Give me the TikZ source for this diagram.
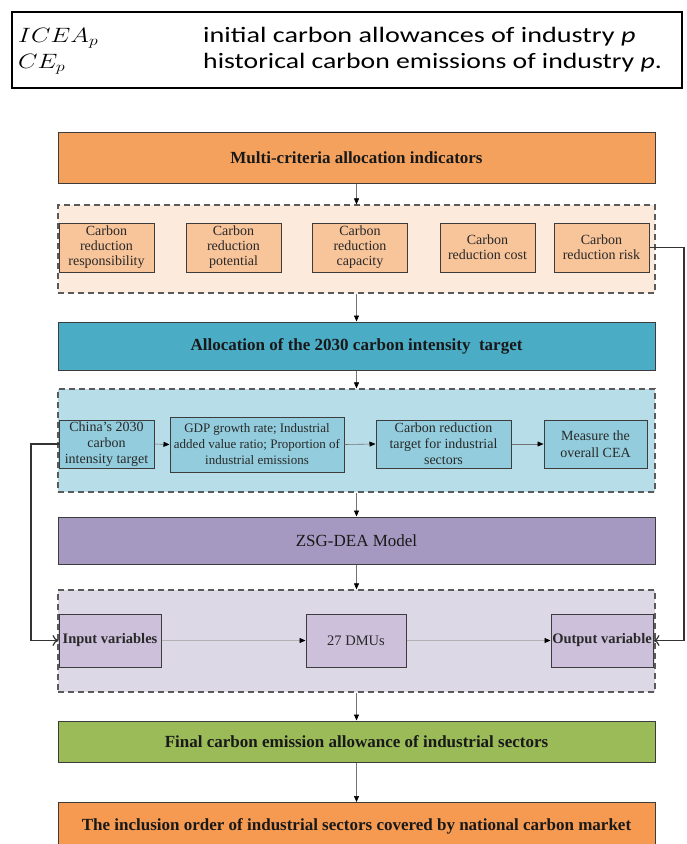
\documentclass[tikz,border=0pt]{standalone}
\usepackage{fontspec}
\setmainfont{Liberation Serif}
\newfontfamily\calfont{Carlito}
\usetikzlibrary{arrows.meta}
\definecolor{orgA}{RGB}{244,161,94}
\definecolor{orgB}{RGB}{246,154,82}
\definecolor{orgL}{RGB}{252,234,220}
\definecolor{orgS}{RGB}{248,196,154}
\definecolor{bluA}{RGB}{75,172,198}
\definecolor{bluL}{RGB}{183,221,232}
\definecolor{bluS}{RGB}{147,205,221}
\definecolor{purA}{RGB}{166,153,193}
\definecolor{purL}{RGB}{221,216,229}
\definecolor{purS}{RGB}{204,192,218}
\definecolor{grnA}{RGB}{155,187,89}
\definecolor{boxline}{RGB}{60,60,60}
\definecolor{dashline}{RGB}{90,90,90}
\definecolor{textgray}{RGB}{40,40,40}
\begin{document}
\begin{tikzpicture}[x=1pt,y=-1pt,
  bigbox/.style={draw=boxline, line width=1pt, minimum width=597pt, inner sep=0pt,
    font=\fontsize{17}{19}\selectfont\bfseries, text=black!90},
  region/.style={draw=dashline, dash pattern=on 6pt off 4pt, line width=1.2pt,
    minimum width=597pt, inner sep=0pt},
  smallbox/.style={draw=boxline, line width=1pt, inner sep=0pt, align=center,
    font=\fontsize{14}{15}\selectfont, text=textgray},
  flow/.style={draw=black!55, line width=0.6pt, -{Triangle[length=6pt,width=5pt,color=black]}},
  feed/.style={draw=black!80, line width=1.2pt, -{To[length=6pt,width=11pt]}},
  tabtext/.style={anchor=base west, inner sep=0pt, font=\calfont\fontsize{22}{26}\selectfont}
]
\useasboundingbox (0,0) rectangle (686,844);
\clip (0,0) rectangle (686,844);
\fill[white] (0,0) rectangle (686,844);

% table
\node[draw=black, line width=1.5pt, minimum width=670pt, minimum height=76pt, inner sep=0pt] (tab) at (347,50) {};
\node[tabtext] (t1a) at (18,42) {\scalebox{1.22}[1]{$ICEA_p$}};
\node[tabtext] (t1b) at (203,42) {\scalebox{1.28}[1]{initial carbon allowances of industry \textit{p}}};
\node[tabtext] (t2a) at (18,68) {\scalebox{1.22}[1]{$CE_p$}};
\node[tabtext] (t2b) at (203,68) {\scalebox{1.26}[1]{historical carbon emissions of industry \textit{p}.}};

% regions
\node[region, fill=orgL, minimum height=88pt] (r1) at (356.5,249) {};
\node[region, fill=bluL, minimum height=103pt] (r2) at (356.5,440.5) {};
\node[region, fill=purL, minimum height=102pt] (r3) at (356.5,641) {};

% big boxes
\node[bigbox, fill=orgA, minimum height=51pt] (b1) at (356.5,157.5) {Multi-criteria allocation indicators};
\node[bigbox, fill=bluA, minimum height=48pt] (b2) at (356.5,346) {Allocation of the 2030 carbon intensity\ \ target};
\node[bigbox, fill=purA, minimum height=47pt, font=\fontsize{17}{19}\selectfont] (b3) at (356.5,540.5) {ZSG-DEA Model};
\node[bigbox, fill=grnA, minimum height=41pt] (b4) at (356.5,741.5) {Final carbon emission allowance of industrial sectors};
\node[bigbox, fill=orgB, minimum height=48pt, anchor=north] (b5) at (356.5,802) {};
\node[font=\fontsize{17}{19}\selectfont\bfseries, text=black!90] (b5t) at (356.5,826) {The inclusion order of industrial sectors covered by national carbon market};

% small orange boxes
\node[smallbox, fill=orgS, minimum width=95pt, minimum height=49pt] (s1) at (106.5,247.5) {Carbon\\reduction\\responsibility};
\node[smallbox, fill=orgS, minimum width=95pt, minimum height=49pt] (s2) at (233.5,247.5) {Carbon\\reduction\\potential};
\node[smallbox, fill=orgS, minimum width=95pt, minimum height=49pt] (s3) at (360,247.5) {Carbon\\reduction\\capacity};
\node[smallbox, fill=orgS, minimum width=95pt, minimum height=49pt] (s4) at (487.5,247.5) {Carbon\\reduction cost};
\node[smallbox, fill=orgS, minimum width=95pt, minimum height=49pt] (s5) at (601.5,247.5) {Carbon\\reduction risk};

% blue inner boxes
\node[smallbox, fill=bluS, minimum width=95pt, minimum height=48pt, font=\fontsize{14}{16}\selectfont] (c1) at (106.5,444) {China's 2030\\carbon\\intensity target};
\node[smallbox, fill=bluS, minimum width=174pt, minimum height=55pt, font=\fontsize{13}{16}\selectfont] (c2) at (257,444.5) {GDP growth rate; Industrial\\added value ratio; Proportion of\\industrial emissions};
\node[smallbox, fill=bluS, minimum width=135pt, minimum height=48pt, font=\fontsize{14}{16}\selectfont] (c3) at (443.5,444) {Carbon reduction\\target for industrial\\sectors};
\node[smallbox, fill=bluS, minimum width=103pt, minimum height=48pt, font=\fontsize{14}{17}\selectfont] (c4) at (595.5,444) {Measure the\\overall CEA};

% purple inner boxes
\node[smallbox, fill=purS, minimum width=102pt, minimum height=53pt, font=\fontsize{14.5}{16}\selectfont\bfseries] (in) at (110,640.5) {Input variables};
\node[smallbox, fill=purS, minimum width=100pt, minimum height=53pt, font=\fontsize{14.5}{16}\selectfont] (dmu) at (356,640.5) {27 DMUs};
\node[smallbox, fill=purS, minimum width=102pt, minimum height=53pt, font=\fontsize{14.5}{16}\selectfont\bfseries] (out) at (602,640.5) {Output variable};

% vertical flow
\draw[flow] (b1.south) -- (r1.north);
\draw[flow] (r1.south) -- (b2.north);
\draw[flow] (b2.south) -- (r2.north);
\draw[flow] (r2.south) -- (b3.north);
\draw[flow] (b3.south) -- (r3.north);
\draw[flow] (r3.south) -- (b4.north);
\draw[flow] (b4.south) -- (b5.north);

% horizontal flow
\draw[flow] (c1.east) -- (c2.west);
\draw[flow] (c2.east) -- (c3.west);
\draw[flow] (c3.east) -- (c4.west);
\draw[flow, draw=black!30] (in.east) -- (dmu.west);
\draw[flow, draw=black!30] (dmu.east) -- (out.west);

% feedback
\coordinate (lft) at (31,444);
\coordinate (rgt) at (684,247.5);
\draw[feed] (c1.west) -- (lft) |- (in.west);
\draw[feed] (s5.east) -- (rgt) |- (out.east);
\end{tikzpicture}
\end{document}
